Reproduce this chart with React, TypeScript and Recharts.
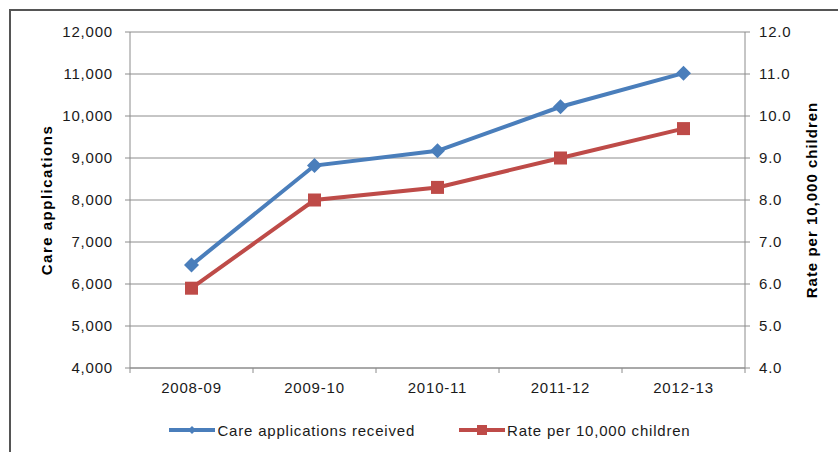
import React from "react";
import {
  LineChart,
  Line,
  XAxis,
  YAxis,
  CartesianGrid,
  Legend,
} from "recharts";

const categories = ["2008-09", "2009-10", "2010-11", "2011-12", "2012-13"];
const applications = [6450, 8820, 9170, 10220, 11020];
const ratePer10k = [5.9, 8.0, 8.3, 9.0, 9.7];
const leftTicks = [4000, 5000, 6000, 7000, 8000, 9000, 10000, 11000, 12000];
const rightTicks = [4, 5, 6, 7, 8, 9, 10, 11, 12];

const rows = categories.map((year, i) => ({
  year,
  applications: applications[i],
  rate: ratePer10k[i],
}));

const W = 838;
const H = 452;
const LEFT_AXIS_W = 130;
const RIGHT_AXIS_W = 93;
const PLOT_W = W - LEFT_AXIS_W - RIGHT_AXIS_W;
const HALF_STEP = PLOT_W / categories.length / 2;

const BLUE = "#4a7ebb";
const RED = "#be4b48";
const GRID = "#8c8c8c";
const TEXT = "#1a1a1a";
const FONT = "'Liberation Sans', Arial, sans-serif";

const tickFont = { fontSize: 15, fill: TEXT, fontFamily: FONT, letterSpacing: 0.8 };

const X_TICK_SIZE = 5;
const X_TICK_MARGIN = 9;

// Excel-style category axis: labels centred, tick marks on the band edges
const CategoryTick = (props: any) => {
  const { x, y, payload, index, visibleTicksCount } = props;
  const axisY = y - X_TICK_SIZE - X_TICK_MARGIN;
  return (
    <g>
      <line
        x1={x - HALF_STEP}
        x2={x - HALF_STEP}
        y1={axisY}
        y2={axisY + X_TICK_SIZE}
        stroke={GRID}
      />
      {index === visibleTicksCount - 1 && (
        <line
          x1={x + HALF_STEP}
          x2={x + HALF_STEP}
          y1={axisY}
          y2={axisY + X_TICK_SIZE}
          stroke={GRID}
        />
      )}
      <text
        x={x}
        y={y}
        dy="0.71em"
        textAnchor="middle"
        style={tickFont}
        fill={TEXT}
      >
        {payload.value}
      </text>
    </g>
  );
};

const Diamond = (props: any) => {
  const { cx, cy } = props;
  if (cx == null || cy == null) return null;
  const r = 7.5;
  return (
    <polygon
      points={`${cx},${cy - r} ${cx + r},${cy} ${cx},${cy + r} ${cx - r},${cy}`}
      fill={BLUE}
    />
  );
};

const Square = (props: any) => {
  const { cx, cy } = props;
  if (cx == null || cy == null) return null;
  const s = 13;
  return <rect x={cx - s / 2} y={cy - s / 2} width={s} height={s} fill={RED} />;
};

const legendItems = [
  { label: "Care applications received", color: BLUE, marker: "diamond" },
  { label: "Rate per 10,000 children", color: RED, marker: "square" },
];

const LegendContent = () => (
  <div
    style={{
      display: "flex",
      justifyContent: "center",
      alignItems: "center",
      height: 20,
      paddingLeft: 22,
      fontFamily: FONT,
      fontSize: 15,
      letterSpacing: 0.8,
      color: TEXT,
    }}
  >
    {legendItems.map((item, i) => (
      <div
        key={item.label}
        style={{ display: "flex", alignItems: "center", marginLeft: i ? 44 : 0 }}
      >
        <svg width={46} height={14} style={{ marginRight: 2 }}>
          <line x1={0} x2={46} y1={7} y2={7} stroke={item.color} strokeWidth={4} />
          {item.marker === "diamond" ? (
            <polygon points="23,3 27,7 23,11 19,7" fill={item.color} />
          ) : (
            <rect x={18} y={2} width={10} height={10} fill={item.color} />
          )}
        </svg>
        <span>{item.label}</span>
      </div>
    ))}
  </div>
);

const AxisTitle = (props: any) => {
  const { viewBox, value, cxOffset, spacing } = props;
  const cx = viewBox.x + cxOffset;
  const cy = viewBox.y + viewBox.height / 2;
  return (
    <text
      x={cx}
      y={cy}
      transform={`rotate(-90, ${cx}, ${cy})`}
      textAnchor="middle"
      dominantBaseline="central"
      style={{
        fontFamily: FONT,
        fontSize: 15,
        fontWeight: "bold",
        letterSpacing: spacing,
        fill: "#000",
      }}
    >
      {value}
    </text>
  );
};

export default function App() {
  return (
    <div
      style={{
        position: "absolute",
        left: 0,
        top: 0,
        width: W,
        height: H,
        overflow: "hidden",
        background: "#fff",
      }}
    >
      <div
        style={{
          position: "absolute",
          left: 9,
          top: 9,
          width: W + 40,
          height: H + 40,
          border: "2px solid #555",
        }}
      />
      <div style={{ position: "absolute", left: 0, top: 0 }}>
        <LineChart
          width={W}
          height={H}
          data={rows}
          margin={{ top: 32, right: 0, bottom: 12, left: 0 }}
        >
          <CartesianGrid vertical={false} stroke={GRID} yAxisId="left" />
          <XAxis
            dataKey="year"
            height={52}
            padding={{ left: HALF_STEP, right: HALF_STEP }}
            stroke={GRID}
            tickLine={false}
            tickSize={X_TICK_SIZE}
            tickMargin={X_TICK_MARGIN}
            tick={<CategoryTick />}
            interval={0}
          />
          <YAxis
            yAxisId="left"
            orientation="left"
            width={LEFT_AXIS_W}
            domain={[4000, 12000]}
            ticks={leftTicks}
            tickFormatter={(v: number) => v.toLocaleString("en-US")}
            stroke={GRID}
            tickSize={5}
            tickMargin={12}
            tick={tickFont}
            label={
              <AxisTitle value="Care applications" cxOffset={46} spacing={1.5} />
            }
          />
          <YAxis
            yAxisId="right"
            orientation="right"
            width={RIGHT_AXIS_W}
            domain={[4, 12]}
            ticks={rightTicks}
            tickFormatter={(v: number) => v.toFixed(1)}
            stroke={GRID}
            tickSize={5}
            tickMargin={9}
            tick={{ ...tickFont, textAnchor: "start" }}
            label={
              <AxisTitle value="Rate per 10,000 children" cxOffset={66} spacing={1} />
            }
          />
          <Legend verticalAlign="bottom" content={<LegendContent />} />
          <Line
            yAxisId="left"
            dataKey="applications"
            name="Care applications received"
            stroke={BLUE}
            strokeWidth={4}
            dot={<Diamond />}
            activeDot={false}
            isAnimationActive={false}
          />
          <Line
            yAxisId="right"
            dataKey="rate"
            name="Rate per 10,000 children"
            stroke={RED}
            strokeWidth={4}
            dot={<Square />}
            activeDot={false}
            isAnimationActive={false}
          />
        </LineChart>
      </div>
    </div>
  );
}
